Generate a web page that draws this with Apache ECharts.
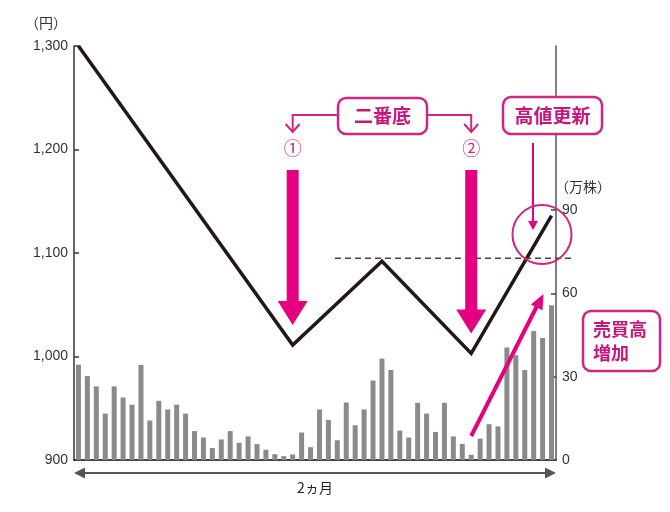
<!DOCTYPE html>
<html>
<head>
<meta charset="utf-8">
<script src="https://cdn.jsdelivr.net/npm/echarts@6/dist/echarts.min.js"></script>
<style>
html,body{margin:0;padding:0;background:#fff;}
#c{width:670px;height:512px;}
</style>
</head>
<body>
<div id="c"></div>
<script>
// ---- data ----
var days = [];
for (var i = 1; i <= 54; i++) days.push(String(i));
var volume = [34.3,30.2,26.5,16.7,26.5,22.5,19.9,34.2,14.2,21.3,
              18.2,19.9,16.7,10.4,8.1,4.3,7.4,10.4,6.2,8.5,
              5.7,3.7,2.1,1.4,2.0,9.9,4.6,18.2,14.4,7.1,
              20.7,12.5,18.2,28.6,36.5,32.4,10.6,8.1,20.6,16.7,
              10.1,20.6,8.5,5.8,1.9,7.7,12.9,12.1,40.5,37.7,
              32.4,46.4,43.9,55.7];
var priceIdx = [0, 24, 34, 44, 53];
var priceVal = [1300, 1011, 1092, 1003, 1136];
var priceTicks = [900, 1000, 1100, 1200, 1300];
var volTicks = [0, 30, 60, 90];
var resistance = 1093;

var MAG = '#e4007f';
var MAGB = '#cf2585';
var MAGT = '#c8167c';
var NUMFONT = '"Liberation Sans", Arial, sans-serif';
var JPFONT = '"Noto Sans CJK JP", sans-serif';

var chart = echarts.init(document.getElementById('c'), null, {renderer: 'canvas'});
var priceData = priceIdx.map(function (x, k) { return [x, priceVal[k]]; });

chart.setOption({
  animation: false,
  backgroundColor: '#fff',
  grid: {left: 74, right: 114, top: 46, bottom: 52, containLabel: false},
  xAxis: {
    type: 'category', data: days, boundaryGap: true,
    axisLine: {show: true, lineStyle: {color: '#444', width: 2}},
    axisTick: {show: false}, axisLabel: {show: false}, splitLine: {show: false}
  },
  yAxis: [{
    type: 'value', position: 'left', min: 900, max: 1300, interval: 100,
    axisLine: {show: true, lineStyle: {color: '#333', width: 1.5}},
    axisTick: {show: true, inside: true, length: 5, lineStyle: {color: '#333', width: 1.5}},
    axisLabel: {color: '#333', fontSize: 14, fontFamily: NUMFONT, margin: 6,
      formatter: function (v) { return v.toLocaleString('en-US'); }},
    splitLine: {show: false}
  }, {
    type: 'value', position: 'right', min: 0, max: 149,
    axisLine: {show: true, lineStyle: {color: '#555', width: 1.5}},
    axisTick: {show: true, inside: true, length: 5, customValues: volTicks, lineStyle: {color: '#444', width: 1.5}},
    axisLabel: {color: '#333', fontSize: 14, fontFamily: NUMFONT, margin: 6, customValues: volTicks},
    splitLine: {show: false}
  }],
  series: [{
    type: 'bar', yAxisIndex: 1, data: volume, barWidth: 5,
    itemStyle: {color: '#8a8a8a'}, z: 2
  }, {
    type: 'line', yAxisIndex: 0, data: priceData, symbol: 'none',
    lineStyle: {color: '#231815', width: 3.5, join: 'miter', cap: 'butt'}, z: 5
  }]
});

function px(x, y) { return chart.convertToPixel({seriesIndex: 1}, [x, y]); }
var m1 = px(priceIdx[1], priceVal[1]);
var m2 = px(priceIdx[3], priceVal[3]);
var pk = px(priceIdx[2], resistance);
var end = px(priceIdx[4], priceVal[4]);
var v0 = chart.convertToPixel({seriesIndex: 0}, [priceIdx[3], 0]);

function bigArrow(cx, tipY) {
  return [{
    type: 'rect', shape: {x: cx - 6, y: 170, width: 12, height: tipY - 24 - 170 + 1},
    style: {fill: MAG}, z: 20
  }, {
    type: 'polygon', shape: {points: [[cx - 15, tipY - 24], [cx + 15, tipY - 24], [cx, tipY]]},
    style: {fill: MAG}, z: 20
  }];
}
function box(x, y, w, h) {
  return {type: 'rect', shape: {x: x, y: y, width: w, height: h, r: 8},
    style: {fill: '#fff', stroke: MAGB, lineWidth: 2.5}, z: 21};
}
function label(text, x, y, size, align) {
  return {type: 'text', x: x, y: y, z: 22,
    style: {text: text, fill: MAGT, font: 'bold ' + size + 'px ' + JPFONT,
      textAlign: align || 'center', textVerticalAlign: 'middle'}};
}

var g = [];
g = g.concat(bigArrow(m1[0], m1[1] - 20));
g = g.concat(bigArrow(m2[0], m2[1] - 20));
// bracket for 二番底
g.push({type: 'polyline', shape: {points: [[340, 115], [m1[0], 115], [m1[0], 132]]},
  style: {stroke: MAGB, lineWidth: 2, fill: null}, z: 20});
g.push({type: 'polyline', shape: {points: [[m1[0] - 7, 124], [m1[0], 132], [m1[0] + 7, 124]]},
  style: {stroke: MAGB, lineWidth: 2, fill: null}, z: 20});
g.push({type: 'polyline', shape: {points: [[425, 115], [m2[0], 115], [m2[0], 132]]},
  style: {stroke: MAGB, lineWidth: 2, fill: null}, z: 20});
g.push({type: 'polyline', shape: {points: [[m2[0] - 7, 124], [m2[0], 132], [m2[0] + 7, 124]]},
  style: {stroke: MAGB, lineWidth: 2, fill: null}, z: 20});
g.push(box(338, 98, 89, 36));
g.push(label('二番底', 382.5, 116, 19));
g.push({type: 'text', x: m1[0], y: 148, z: 22,
  style: {text: '①', fill: MAGB, font: '18px ' + JPFONT, textAlign: 'center', textVerticalAlign: 'middle'}});
g.push({type: 'text', x: m2[0], y: 148, z: 22,
  style: {text: '②', fill: MAGB, font: '18px ' + JPFONT, textAlign: 'center', textVerticalAlign: 'middle'}});
// 高値更新
g.push(box(503, 97, 99, 37));
g.push(label('高値更新', 552.5, 116, 19));
g.push({type: 'line', shape: {x1: 533, y1: 143, x2: 533, y2: 223}, style: {stroke: MAG, lineWidth: 2}, z: 20});
g.push({type: 'polygon', shape: {points: [[528, 221], [538, 221], [533, 230]]}, style: {fill: MAG}, z: 20});
g.push({type: 'circle', shape: {cx: 542, cy: 234.5, r: 29.5}, style: {fill: null, stroke: MAGB, lineWidth: 2}, z: 20});
// dashed resistance
g.push({type: 'line', shape: {x1: 335, y1: pk[1] - 2, x2: 574, y2: pk[1] - 2},
  style: {stroke: '#444', lineWidth: 1.5, lineDash: [6, 4]}, z: 6});
// 売買高増加
g.push({type: 'line', shape: {x1: v0[0], y1: 436, x2: 538, y2: 304}, style: {stroke: MAG, lineWidth: 4}, z: 20});
(function () {
  var tx = 543.5, ty = 294, ang = Math.atan2(294 - 436, 543.5 - v0[0]);
  var L = 15, W = 6.5;
  var bx = tx - L * Math.cos(ang), by = ty - L * Math.sin(ang);
  var nx = -Math.sin(ang), ny = Math.cos(ang);
  g.push({type: 'polygon', shape: {points: [[tx, ty], [bx + nx * W, by + ny * W], [bx - nx * W, by - ny * W]]},
    style: {fill: MAG}, z: 20});
})();
g.push(box(583, 311, 77, 60));
g.push(label('売買高', 593, 329, 18, 'left'));
g.push(label('増加', 593, 353, 18, 'left'));
// axis units
g.push({type: 'text', x: 25, y: 23, style: {text: '（円）', fill: '#333', font: '14px ' + JPFONT, textAlign: 'left', textVerticalAlign: 'middle'}});
g.push({type: 'text', x: 555, y: 187, style: {text: '（万株）', fill: '#333', font: '14px ' + JPFONT, textAlign: 'left', textVerticalAlign: 'middle'}});
// bottom span arrow
g.push({type: 'line', shape: {x1: 82, y1: 473, x2: 548, y2: 473}, style: {stroke: '#555', lineWidth: 2}, z: 10});
g.push({type: 'polygon', shape: {points: [[74, 473], [85, 467.5], [85, 478.5]]}, style: {fill: '#555'}, z: 10});
g.push({type: 'polygon', shape: {points: [[556, 473], [545, 467.5], [545, 478.5]]}, style: {fill: '#555'}, z: 10});
g.push({type: 'text', x: 315, y: 488, style: {text: '2ヵ月', fill: '#222', font: '14px ' + JPFONT, textAlign: 'center', textVerticalAlign: 'middle'}});

chart.setOption({graphic: g});
</script>
</body>
</html>
